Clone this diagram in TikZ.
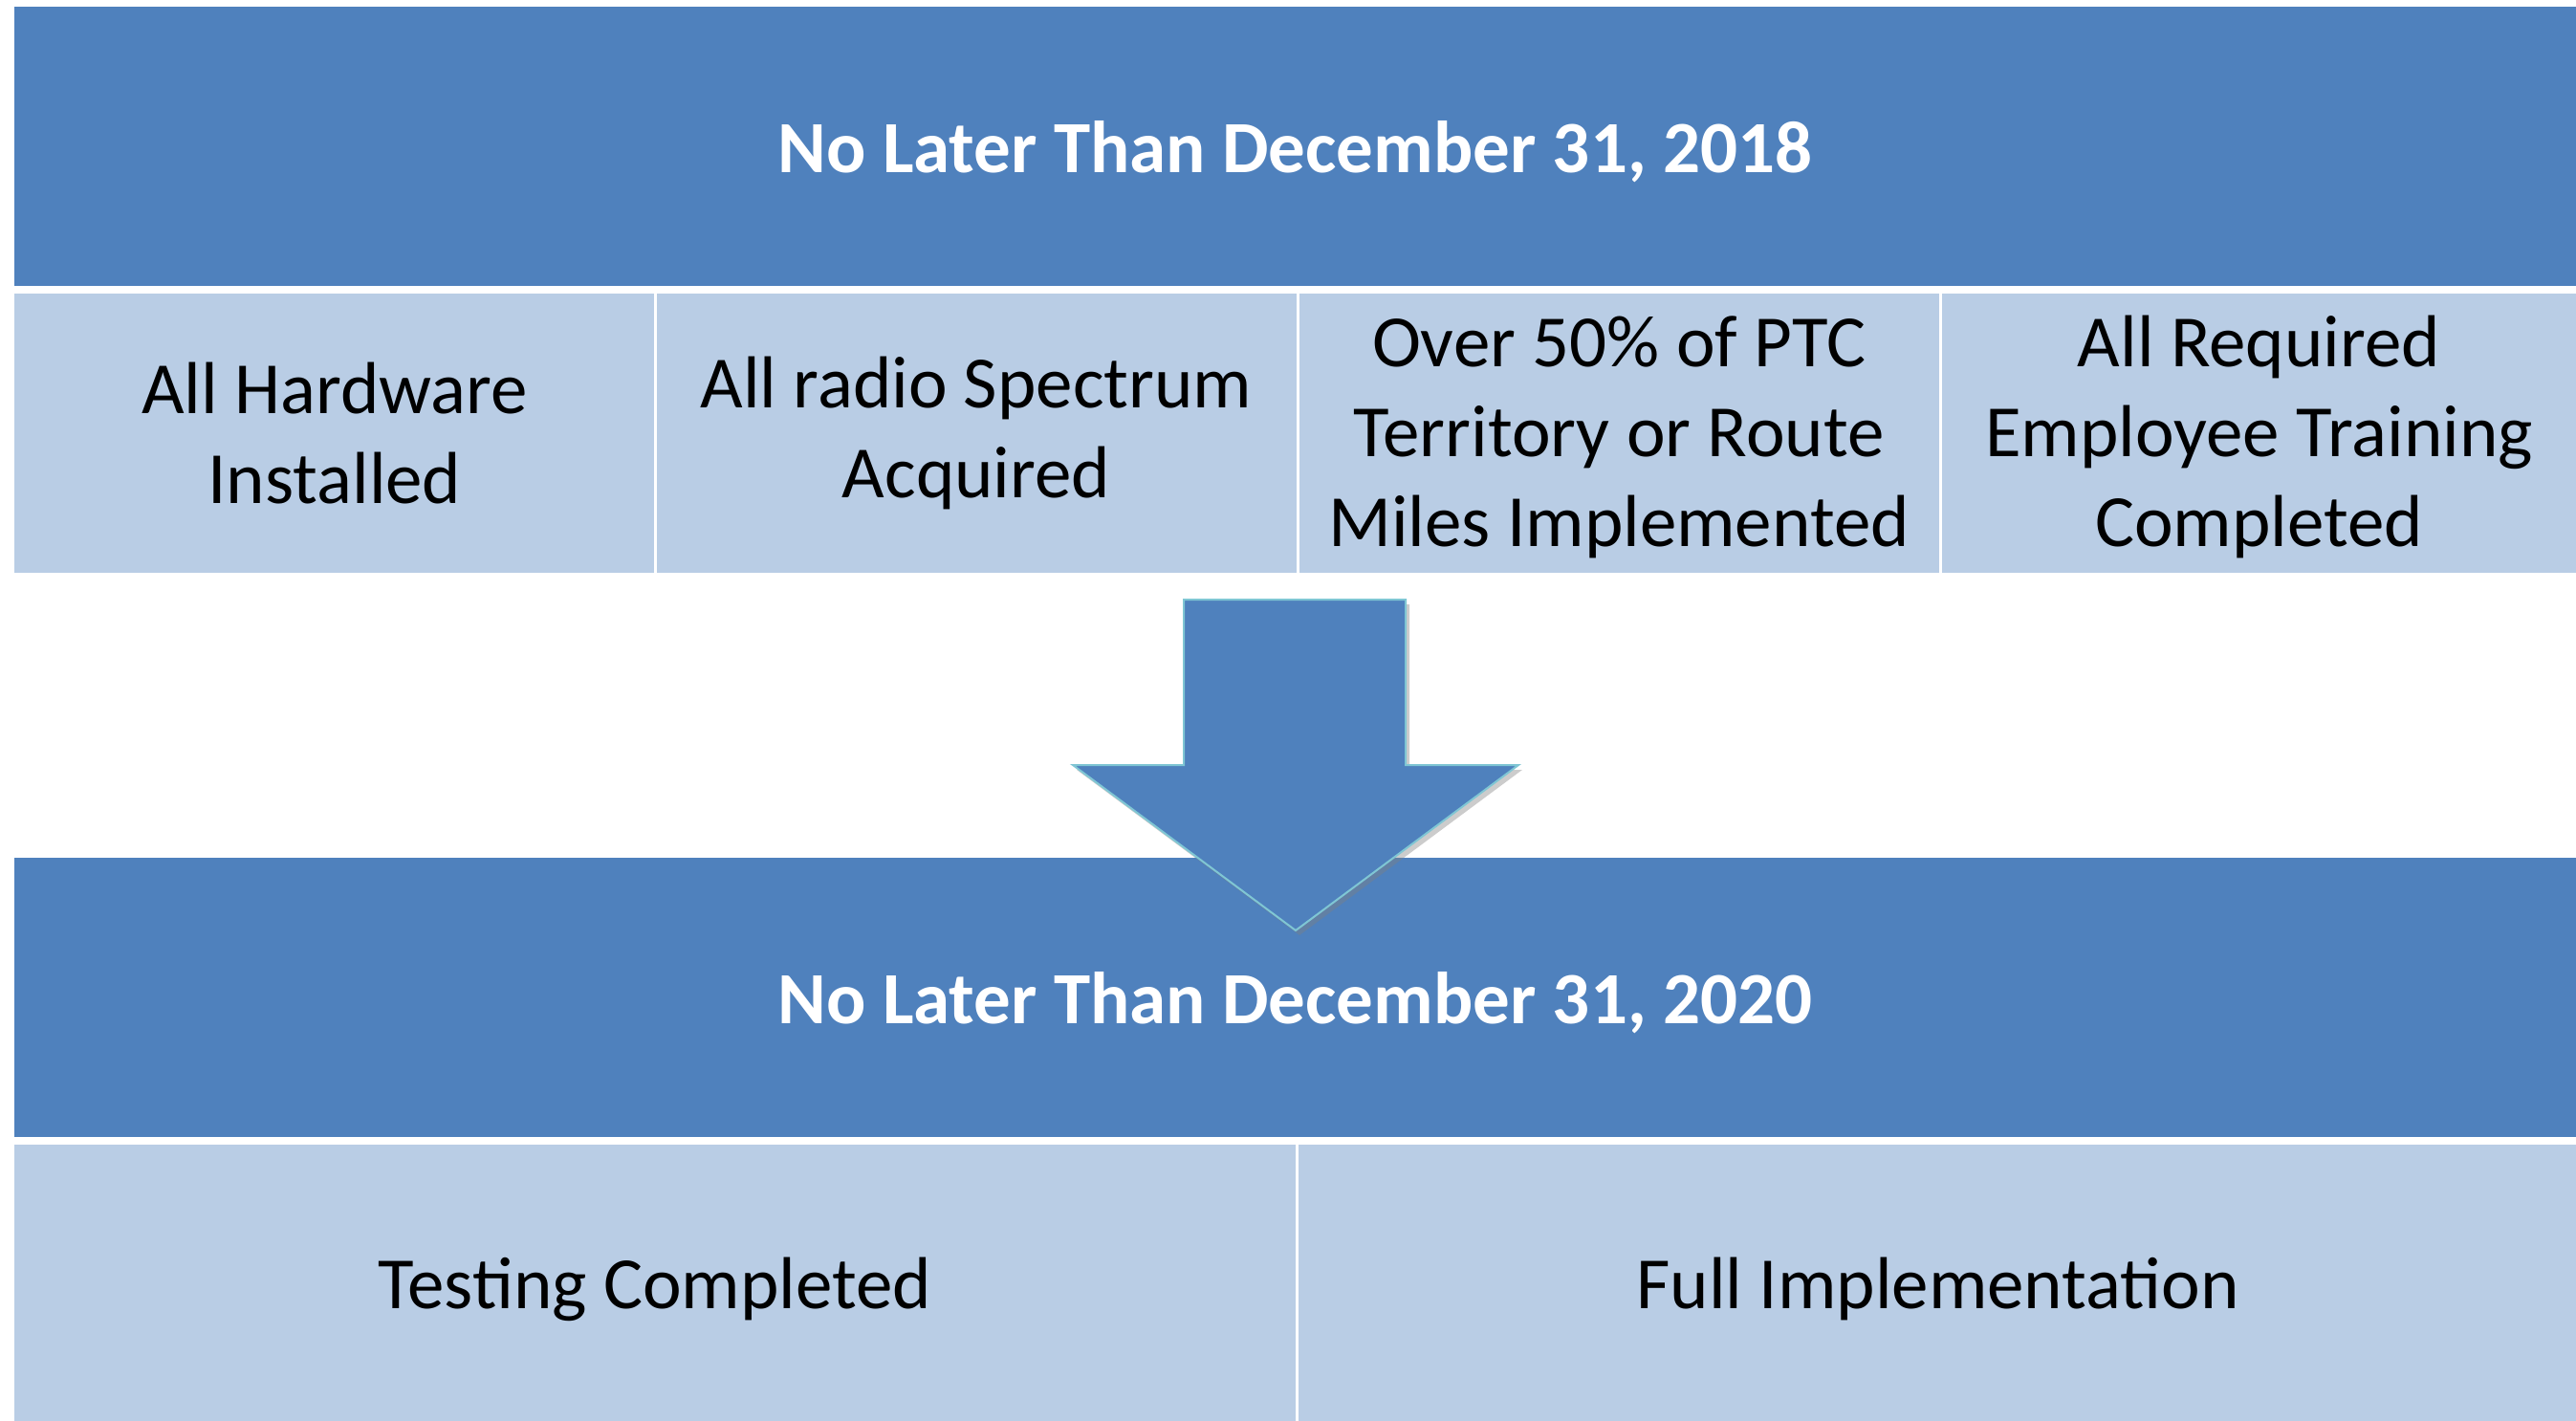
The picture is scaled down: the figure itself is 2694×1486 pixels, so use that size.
\documentclass[tikz,border=0pt]{standalone}
\usepackage{fontspec}
\setmainfont{Carlito}
\usetikzlibrary{shadows}
\definecolor{hdr}{HTML}{4F81BD}
\definecolor{cellc}{HTML}{B9CDE5}
\definecolor{arrowedge}{HTML}{7FC6D4}
\tikzset{
  hdrtext/.style={inner sep=0pt, text=white,
    font=\fontsize{77}{94}\selectfont\bfseries},
  celltext/.style={inner sep=0pt, align=center,
    font=\fontsize{77}{94}\selectfont},
}
\begin{document}
\begin{tikzpicture}[x=1pt,y=-1pt]
\useasboundingbox (0,0) rectangle (2694,1486);
\fill[white] (0,0) rectangle (2694,1486);
% boxes
\fill[hdr] (15,7) rectangle (2694,299);
\fill[cellc] (15,307) rectangle (684,599);
\fill[cellc] (687,307) rectangle (1356,599);
\fill[cellc] (1359,307) rectangle (2028,599);
\fill[cellc] (2031,307) rectangle (2694,599);
\fill[hdr] (15,897) rectangle (2694,1189);
\fill[cellc] (15,1197) rectangle (1355,1486);
\fill[cellc] (1358,1197) rectangle (2694,1486);
% texts
\node[hdrtext] (h1) at (1354.5,159) {No Later Than December 31, 2018};
\node[celltext] (c1) at (350,453) {All Hardware\\Installed};
\node[celltext] (c2) at (1021,453) {All radio Spectrum\\Acquired};
\node[celltext] (c3) at (1693,457) {Over 50\% of PTC\\Territory or Route\\Miles Implemented};
\node[celltext] (c4) at (2362.5,457) {All Required\\Employee Training\\Completed};
\node[hdrtext] (h2) at (1354.5,1049) {No Later Than December 31, 2020};
\node[celltext] (d1) at (685,1348) {Testing Completed};
\node[celltext] (d2) at (2026.5,1348) {Full Implementation};
% arrow
\draw[fill=hdr, draw=arrowedge, line width=2pt, line join=miter,
  drop shadow={opacity=0.4, shadow xshift=4pt, shadow yshift=-5pt}]
  (1238,627) -- (1470,627) -- (1470,800) -- (1588,800) -- (1355,973)
  -- (1122,800) -- (1238,800) -- cycle;
\end{tikzpicture}
\end{document}
